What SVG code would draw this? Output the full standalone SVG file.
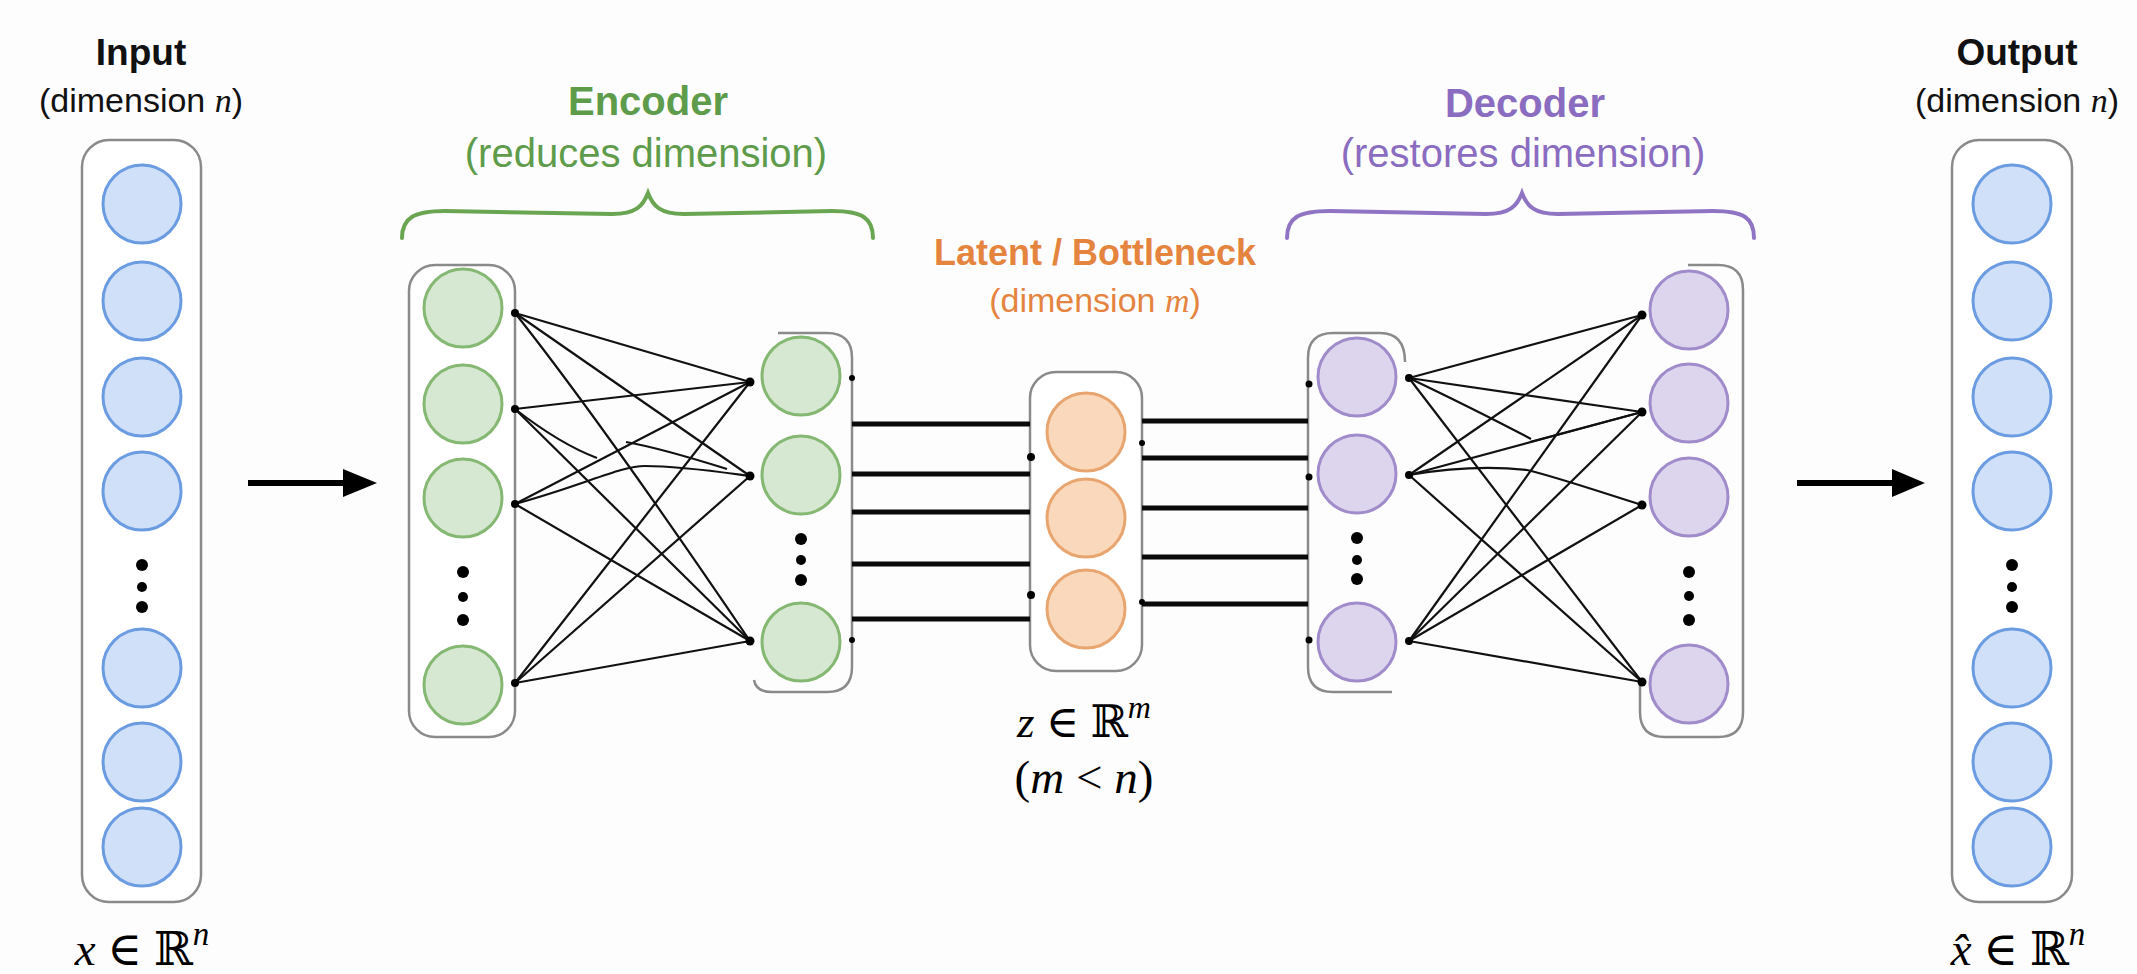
<svg xmlns="http://www.w3.org/2000/svg" width="2137" height="974" viewBox="0 0 2137 974">
  <defs>
    <style>
      .sans { font-family: "Liberation Sans", Arial, sans-serif; }
      .math { font-family: "Liberation Serif", "DejaVu Serif", serif; font-style: italic; }
      .up { font-style: normal; }
      .title { font-size: 37px; font-weight: bold; fill: #111; text-anchor: middle; }
      .sub { font-size: 34px; fill: #111; text-anchor: middle; }
      .box { fill: #ffffff; stroke: #8a8a8a; stroke-width: 2.5; }
      .frame { fill: none; stroke: #8a8a8a; stroke-width: 2.5; }
      .blue { fill: #cfe0f8; stroke: #6b9ce2; stroke-width: 3; }
      .green { fill: #d6e8d1; stroke: #85b872; stroke-width: 3; }
      .orange { fill: #fad8bb; stroke: #e9a56f; stroke-width: 3; }
      .purple { fill: #ddd5ee; stroke: #a08bcb; stroke-width: 3; }
      .edge { stroke: #111; stroke-width: 2.2; fill: none; }
      .bus { stroke: #0a0a0a; stroke-width: 5; }
      .arrow { stroke: #000; stroke-width: 6; }
      .dot { fill: #000; }
    </style>
  </defs>

  <rect width="2137" height="974" fill="#fdfdfd"/>

  <!-- Input layer -->
  <g id="input">
    <text class="sans title" x="141" y="65">Input</text>
    <text class="sans sub" x="141" y="112">(dimension <tspan class="math">n</tspan>)</text>
    <rect class="box" x="82" y="140" width="119" height="762" rx="27"/>
    <circle class="blue" cx="142" cy="204" r="39"/>
    <circle class="blue" cx="142" cy="301" r="39"/>
    <circle class="blue" cx="142" cy="397" r="39"/>
    <circle class="blue" cx="142" cy="491" r="39"/>
    <circle class="dot" cx="142" cy="565" r="6"/>
    <circle class="dot" cx="142" cy="587" r="5"/>
    <circle class="dot" cx="142" cy="607" r="6"/>
    <circle class="blue" cx="142" cy="668" r="39"/>
    <circle class="blue" cx="142" cy="762" r="39"/>
    <circle class="blue" cx="142" cy="847" r="39"/>
    <text class="math" x="142" y="965" font-size="47" text-anchor="middle">x <tspan class="up">∈ ℝ</tspan><tspan font-size="33" dy="-20">n</tspan></text>
  </g>

  <!-- Encoder -->
  <g id="encoder-label">
    <text class="sans" x="648" y="115" font-size="40" font-weight="bold" fill="#5e9c4b" text-anchor="middle">Encoder</text>
    <text class="sans" x="646" y="167" font-size="40" fill="#5e9c4b" text-anchor="middle">(reduces dimension)</text>
    <path d="M402,238 C402,218 414,211 445,211 L612,214 C636,214 643,206 648,193 C653,206 660,214 684,214 L832,211 C862,211 873,218 873,238" fill="none" stroke="#6aa552" stroke-width="4" stroke-linecap="round"/>
  </g>

  <g id="encoder-layer1">
    <rect class="box" x="409" y="265" width="106" height="472" rx="26"/>
    <circle class="green" cx="463" cy="308" r="39"/>
    <circle class="green" cx="463" cy="404" r="39"/>
    <circle class="green" cx="463" cy="498" r="39"/>
    <circle class="dot" cx="463" cy="572" r="6"/>
    <circle class="dot" cx="463" cy="597" r="5"/>
    <circle class="dot" cx="463" cy="620" r="6"/>
    <circle class="green" cx="463" cy="685" r="39"/>
  </g>

  <g id="encoder-layer2">
    <path class="frame" d="M778,333 H827 Q852,333 852,358 V667 Q852,692 827,692 H772 Q756,692 754,680"/>
    <circle class="green" cx="801" cy="376" r="39"/>
    <circle class="green" cx="801" cy="475" r="39"/>
    <circle class="dot" cx="801" cy="539" r="6"/>
    <circle class="dot" cx="801" cy="560" r="5"/>
    <circle class="dot" cx="801" cy="580" r="6"/>
    <circle class="green" cx="801" cy="642" r="39"/>
  </g>

  <!-- Latent / bottleneck -->
  <g id="latent">
    <text class="sans" x="1095" y="265" font-size="36" font-weight="bold" fill="#e5843f" text-anchor="middle">Latent / Bottleneck</text>
    <text class="sans" x="1095" y="312" font-size="34" fill="#e5843f" text-anchor="middle">(dimension <tspan class="math">m</tspan>)</text>
    <rect class="box" x="1030" y="372" width="112" height="299" rx="26"/>
    <circle class="orange" cx="1086" cy="432" r="39"/>
    <circle class="orange" cx="1086" cy="518" r="39"/>
    <circle class="orange" cx="1086" cy="609" r="39"/>
    <text class="math" x="1084" y="737" font-size="45" text-anchor="middle">z <tspan class="up">∈ ℝ</tspan><tspan font-size="32" dy="-19">m</tspan></text>
    <text class="math" x="1084" y="793" font-size="47" text-anchor="middle"><tspan class="up">(</tspan>m <tspan class="up">&lt;</tspan> n<tspan class="up">)</tspan></text>
  </g>

  <!-- Decoder -->
  <g id="decoder-label">
    <text class="sans" x="1525" y="117" font-size="40" font-weight="bold" fill="#8a6cc0" text-anchor="middle">Decoder</text>
    <text class="sans" x="1523" y="167" font-size="40" fill="#8a6cc0" text-anchor="middle">(restores dimension)</text>
    <path d="M1287,238 C1287,218 1298,211 1330,211 L1486,214 C1510,214 1517,206 1522,193 C1527,206 1534,214 1558,214 L1713,211 C1744,211 1754,218 1754,238" fill="none" stroke="#8f74c4" stroke-width="4" stroke-linecap="round"/>
  </g>

  <g id="decoder-layer1">
    <path class="frame" d="M1405,362 Q1405,333 1380,333 H1333 Q1308,333 1308,358 V667 Q1308,692 1333,692 H1392"/>
    <circle class="purple" cx="1357" cy="377" r="39"/>
    <circle class="purple" cx="1357" cy="474" r="39"/>
    <circle class="dot" cx="1357" cy="538" r="6"/>
    <circle class="dot" cx="1357" cy="560" r="5"/>
    <circle class="dot" cx="1357" cy="579" r="6"/>
    <circle class="purple" cx="1357" cy="642" r="39"/>
  </g>

  <g id="decoder-layer2">
    <path class="frame" d="M1688,265 H1718 Q1743,265 1743,290 V712 Q1743,737 1718,737 H1665 Q1640,737 1640,712 V684"/>
    <circle class="purple" cx="1689" cy="310" r="39"/>
    <circle class="purple" cx="1689" cy="403" r="39"/>
    <circle class="purple" cx="1689" cy="497" r="39"/>
    <circle class="dot" cx="1689" cy="572" r="6"/>
    <circle class="dot" cx="1689" cy="596" r="5"/>
    <circle class="dot" cx="1689" cy="620" r="6"/>
    <circle class="purple" cx="1689" cy="684" r="39"/>
  </g>

  <!-- Output layer -->
  <g id="output">
    <text class="sans title" x="2017" y="65">Output</text>
    <text class="sans sub" x="2017" y="112">(dimension <tspan class="math">n</tspan>)</text>
    <rect class="box" x="1952" y="140" width="120" height="762" rx="27"/>
    <circle class="blue" cx="2012" cy="204" r="39"/>
    <circle class="blue" cx="2012" cy="301" r="39"/>
    <circle class="blue" cx="2012" cy="397" r="39"/>
    <circle class="blue" cx="2012" cy="491" r="39"/>
    <circle class="dot" cx="2012" cy="565" r="6"/>
    <circle class="dot" cx="2012" cy="587" r="5"/>
    <circle class="dot" cx="2012" cy="607" r="6"/>
    <circle class="blue" cx="2012" cy="668" r="39"/>
    <circle class="blue" cx="2012" cy="762" r="39"/>
    <circle class="blue" cx="2012" cy="847" r="39"/>
    <text class="math" x="2018" y="965" font-size="47" text-anchor="middle">x̂ <tspan class="up">∈ ℝ</tspan><tspan font-size="33" dy="-20">n</tspan></text>
  </g>

  <!-- Connectors -->
  <g id="connectors">
    <!-- input to encoder / decoder to output arrows -->
    <line class="arrow" x1="248" y1="483" x2="346" y2="483"/>
    <polygon points="343,469 377,483 343,497" fill="#000"/>
    <line class="arrow" x1="1797" y1="483" x2="1895" y2="483"/>
    <polygon points="1892,469 1925,483 1892,497" fill="#000"/>

    <!-- encoder: layer 1 to layer 2 -->
    <line class="edge" x1="515" y1="313" x2="750" y2="382"/>
    <line class="edge" x1="515" y1="313" x2="750" y2="476"/>
    <path class="edge" d="M515,313 Q600,420 750,641"/>
    <line class="edge" x1="515" y1="409" x2="750" y2="382"/>
    <path class="edge" d="M515,409 Q560,444 597,458"/>
    <path class="edge" d="M626,442 Q660,448 727,469"/>
    <line class="edge" x1="515" y1="409" x2="750" y2="641"/>
    <line class="edge" x1="515" y1="504" x2="750" y2="382"/>
    <path class="edge" d="M515,504 C585,485 620,466 645,466 C680,466 720,472 750,476"/>
    <line class="edge" x1="515" y1="504" x2="750" y2="641"/>
    <line class="edge" x1="515" y1="683" x2="750" y2="382"/>
    <line class="edge" x1="515" y1="683" x2="750" y2="476"/>
    <line class="edge" x1="515" y1="683" x2="750" y2="641"/>
    <circle class="dot" cx="515" cy="313" r="4"/>
    <circle class="dot" cx="515" cy="409" r="4"/>
    <circle class="dot" cx="515" cy="504" r="4"/>
    <circle class="dot" cx="515" cy="683" r="4"/>
    <circle class="dot" cx="750" cy="382" r="4.5"/>
    <circle class="dot" cx="750" cy="476" r="4.5"/>
    <circle class="dot" cx="750" cy="641" r="4.5"/>
    <circle class="dot" cx="852" cy="378" r="3"/>
    <circle class="dot" cx="852" cy="640" r="3"/>

    <!-- encoder to latent -->
    <line class="bus" x1="852" y1="424" x2="1030" y2="424"/>
    <line class="bus" x1="852" y1="474" x2="1030" y2="474"/>
    <line class="bus" x1="852" y1="512" x2="1030" y2="512"/>
    <line class="bus" x1="852" y1="564" x2="1030" y2="564"/>
    <line class="bus" x1="852" y1="619" x2="1030" y2="619"/>
    <circle class="dot" cx="1031" cy="457" r="4"/>
    <circle class="dot" cx="1031" cy="595" r="4"/>

    <!-- latent to decoder -->
    <line class="bus" x1="1142" y1="421" x2="1308" y2="421"/>
    <line class="bus" x1="1142" y1="458" x2="1308" y2="458"/>
    <line class="bus" x1="1142" y1="508" x2="1308" y2="508"/>
    <line class="bus" x1="1142" y1="557" x2="1308" y2="557"/>
    <line class="bus" x1="1142" y1="604" x2="1308" y2="604"/>
    <circle class="dot" cx="1142" cy="443" r="3"/>
    <circle class="dot" cx="1142" cy="602" r="3"/>
    <circle class="dot" cx="1309" cy="384" r="3.5"/>
    <circle class="dot" cx="1309" cy="477" r="3.5"/>
    <circle class="dot" cx="1309" cy="640" r="3.5"/>

    <!-- decoder: layer 1 to layer 2 -->
    <line class="edge" x1="1409" y1="378" x2="1642" y2="315"/>
    <line class="edge" x1="1409" y1="378" x2="1642" y2="412"/>
    <path class="edge" d="M1409,378 Q1480,412 1531,439"/>
    <path class="edge" d="M1530,442 Q1590,426 1642,412"/>
    <line class="edge" x1="1409" y1="378" x2="1642" y2="682"/>
    <line class="edge" x1="1409" y1="475" x2="1642" y2="315"/>
    <line class="edge" x1="1409" y1="475" x2="1642" y2="412"/>
    <path class="edge" d="M1409,475 C1450,468 1490,466 1527,470 C1560,478 1600,492 1642,505"/>
    <line class="edge" x1="1409" y1="475" x2="1642" y2="682"/>
    <line class="edge" x1="1409" y1="641" x2="1642" y2="315"/>
    <line class="edge" x1="1409" y1="641" x2="1642" y2="412"/>
    <line class="edge" x1="1409" y1="641" x2="1642" y2="505"/>
    <line class="edge" x1="1409" y1="641" x2="1642" y2="682"/>
    <circle class="dot" cx="1409" cy="378" r="4"/>
    <circle class="dot" cx="1409" cy="475" r="4"/>
    <circle class="dot" cx="1409" cy="641" r="4"/>
    <circle class="dot" cx="1642" cy="315" r="4.5"/>
    <circle class="dot" cx="1642" cy="412" r="4.5"/>
    <circle class="dot" cx="1642" cy="505" r="4.5"/>
    <circle class="dot" cx="1642" cy="682" r="4.5"/>
  </g>
</svg>
